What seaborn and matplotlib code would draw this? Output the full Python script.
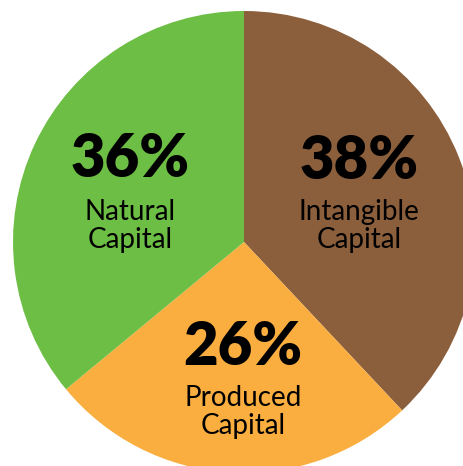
import matplotlib
matplotlib.use("Agg")
import matplotlib.pyplot as plt
import seaborn as sns

# data
categories = ["Intangible\nCapital", "Produced\nCapital", "Natural\nCapital"]
shares = [38, 26, 36]
colors = ["#8B5E3C", "#FBAE40", "#6DBE45"]

sns.set_theme(style="white")
plt.rcParams['font.family'] = ['Lato', 'DejaVu Sans']

W, H = 463, 466
fig = plt.figure(figsize=(W / 100, H / 100), dpi=100)
ax = fig.add_axes([0, 0, 1, 1])

# pie in pixel-like coordinates, slices clockwise from the top
cx, cy, r = 244, H - 242, 231
ax.pie(shares, colors=colors, startangle=90, counterclock=False,
       center=(cx, cy), radius=r, frame=True,
       wedgeprops=dict(linewidth=0))

ax.set_xlim(0, W)
ax.set_ylim(0, H)
ax.set_aspect('equal')
ax.axis('off')

# label placements (pixel x of centre, baselines of the lines)
label_x = [359, 243, 130]
pct_base = [179, 365, 177]
name_base = [220, 406, 220]
for lab, val, x, yb, nb in zip(categories, shares, label_x, pct_base, name_base):
    ax.text(x, H - yb, f"{val}%", ha='center', va='baseline',
            fontsize=43, fontweight='heavy', color='black')
    line1, line2 = lab.split("\n")
    ax.text(x, H - nb, line1, ha='center', va='baseline',
            fontsize=20, color='black')
    ax.text(x, H - nb - 28, line2, ha='center', va='baseline',
            fontsize=20, color='black')

fig.savefig("out.png", dpi=100)
